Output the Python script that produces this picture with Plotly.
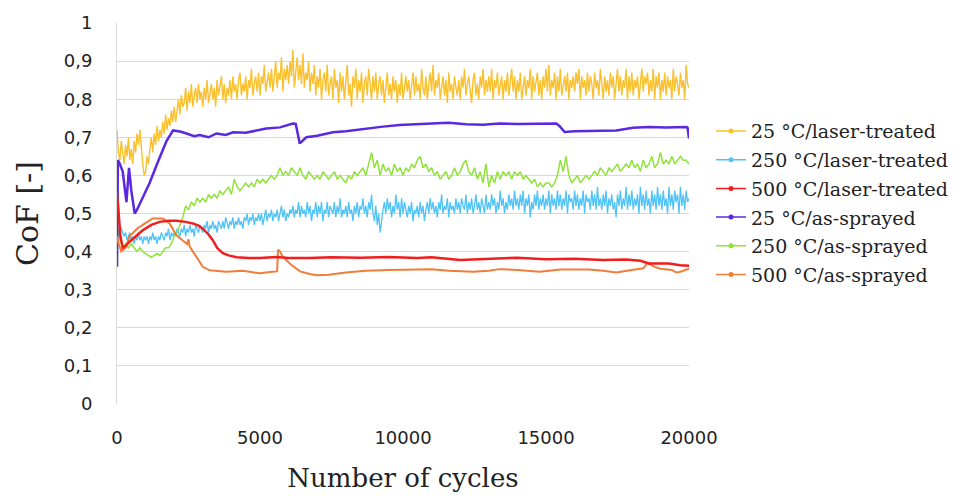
import plotly.graph_objects as go

# ---------------- data ----------------
x_ticks = [0, 5000, 10000, 15000, 20000]
x_tick_labels = ["0", "5000", "10000", "15000", "20000"]
y_ticks = [0, 0.1, 0.2, 0.3, 0.4, 0.5, 0.6, 0.7, 0.8, 0.9, 1.0]
y_tick_labels = ["0", "0,1", "0,2", "0,3", "0,4", "0,5", "0,6", "0,7", "0,8", "0,9", "1"]

series_names = ["25 °C/laser-treated", "250 °C/laser-treated", "500 °C/laser-treated",
                "25 °C/as-sprayed", "250 °C/as-sprayed", "500 °C/as-sprayed"]

# sampling grids of the recorded (noisy) curves
cycles_50 = list(range(0, 20001, 50))
cycles_100 = list(range(0, 20001, 100))

cof_25_laser = [
    0.72, 0.66, 0.64, 0.69, 0.66, 0.63, 0.68, 0.65, 0.70, 0.64, 0.67, 0.63, 0.69, 0.66, 0.71, 0.68, 0.72, 0.66, 0.63, 0.60,
    0.61, 0.65, 0.63, 0.67, 0.70, 0.66, 0.71, 0.68, 0.73, 0.69, 0.72, 0.70, 0.74, 0.71, 0.76, 0.72, 0.75, 0.73, 0.77, 0.74,
    0.78, 0.74, 0.77, 0.80, 0.76, 0.81, 0.78, 0.79, 0.83, 0.77, 0.82, 0.79, 0.84, 0.78, 0.81, 0.83, 0.79, 0.84, 0.80, 0.82,
    0.78, 0.83, 0.80, 0.85, 0.79, 0.82, 0.84, 0.80, 0.83, 0.78, 0.85, 0.81, 0.83, 0.86, 0.80, 0.84, 0.79, 0.83, 0.81, 0.85,
    0.80, 0.86, 0.82, 0.84, 0.80, 0.85, 0.87, 0.81, 0.84, 0.82, 0.86, 0.80, 0.85, 0.83, 0.88, 0.81, 0.84, 0.86, 0.82, 0.87,
    0.81, 0.86, 0.84, 0.89, 0.82, 0.85, 0.87, 0.83, 0.88, 0.82, 0.86, 0.90, 0.83, 0.87, 0.85, 0.91, 0.82, 0.88, 0.85, 0.89,
    0.84, 0.90, 0.86, 0.93, 0.83, 0.88, 0.91, 0.85, 0.89, 0.84, 0.92, 0.83, 0.87, 0.85, 0.90, 0.82, 0.87, 0.84, 0.89, 0.81,
    0.86, 0.83, 0.88, 0.80, 0.85, 0.87, 0.82, 0.89, 0.81, 0.84, 0.86, 0.80, 0.88, 0.83, 0.85, 0.79, 0.87, 0.82, 0.86, 0.80,
    0.85, 0.89, 0.81, 0.84, 0.78, 0.86, 0.83, 0.88, 0.80, 0.85, 0.82, 0.87, 0.79, 0.84, 0.86, 0.81, 0.88, 0.83, 0.80, 0.86,
    0.82, 0.87, 0.80, 0.84, 0.86, 0.81, 0.85, 0.79, 0.83, 0.87, 0.81, 0.84, 0.80, 0.86, 0.82, 0.85, 0.79, 0.84, 0.81, 0.87,
    0.80, 0.84, 0.86, 0.82, 0.85, 0.80, 0.83, 0.87, 0.81, 0.86, 0.82, 0.84, 0.80, 0.88, 0.83, 0.81, 0.86, 0.80, 0.84, 0.87,
    0.82, 0.89, 0.81, 0.85, 0.83, 0.87, 0.80, 0.84, 0.86, 0.81, 0.85, 0.79, 0.87, 0.82, 0.84, 0.80, 0.86, 0.83, 0.81, 0.85,
    0.80, 0.86, 0.83, 0.88, 0.81, 0.84, 0.86, 0.82, 0.79, 0.85, 0.87, 0.81, 0.84, 0.80, 0.86, 0.83, 0.88, 0.81, 0.85, 0.82,
    0.86, 0.82, 0.88, 0.80, 0.85, 0.83, 0.87, 0.81, 0.84, 0.86, 0.80, 0.85, 0.82, 0.87, 0.81, 0.84, 0.88, 0.82, 0.86, 0.80,
    0.85, 0.82, 0.87, 0.80, 0.84, 0.86, 0.81, 0.85, 0.83, 0.88, 0.80, 0.86, 0.82, 0.84, 0.87, 0.81, 0.85, 0.80, 0.86, 0.83,
    0.88, 0.82, 0.89, 0.81, 0.85, 0.83, 0.87, 0.80, 0.86, 0.82, 0.88, 0.81, 0.84, 0.86, 0.82, 0.87, 0.80, 0.85, 0.83, 0.86,
    0.82, 0.87, 0.84, 0.88, 0.80, 0.86, 0.83, 0.85, 0.81, 0.87, 0.82, 0.86, 0.84, 0.80, 0.87, 0.83, 0.85, 0.81, 0.88, 0.84,
    0.80, 0.86, 0.82, 0.85, 0.81, 0.87, 0.83, 0.86, 0.80, 0.84, 0.88, 0.82, 0.86, 0.81, 0.85, 0.83, 0.88, 0.80, 0.86, 0.82,
    0.87, 0.81, 0.85, 0.83, 0.86, 0.80, 0.84, 0.88, 0.82, 0.86, 0.84, 0.87, 0.81, 0.85, 0.82, 0.88, 0.80, 0.86, 0.83, 0.87,
    0.80, 0.85, 0.82, 0.87, 0.81, 0.86, 0.83, 0.85, 0.80, 0.88, 0.82, 0.86, 0.84, 0.81, 0.87, 0.83, 0.85, 0.80, 0.89, 0.84,
    0.83,
]

cof_250_laser = [
    0.60, 0.52, 0.47, 0.46, 0.45, 0.44, 0.45, 0.43, 0.44, 0.45, 0.43, 0.44, 0.42, 0.44, 0.43, 0.45, 0.43, 0.44, 0.42, 0.44,
    0.43, 0.44, 0.42, 0.44, 0.43, 0.45, 0.43, 0.44, 0.42, 0.44, 0.43, 0.45, 0.44, 0.43, 0.45, 0.44, 0.46, 0.43, 0.45, 0.44,
    0.45, 0.44, 0.46, 0.45, 0.44, 0.46, 0.45, 0.47, 0.44, 0.46, 0.45, 0.47, 0.45, 0.46, 0.44, 0.47, 0.46, 0.45, 0.47, 0.46,
    0.45, 0.47, 0.46, 0.48, 0.45, 0.47, 0.46, 0.48, 0.46, 0.47, 0.45, 0.48, 0.47, 0.46, 0.48, 0.46, 0.49, 0.47, 0.46, 0.48,
    0.47, 0.49, 0.46, 0.48, 0.47, 0.49, 0.47, 0.48, 0.46, 0.49, 0.48, 0.50, 0.47, 0.49, 0.48, 0.50, 0.47, 0.49, 0.48, 0.50,
    0.48, 0.50, 0.47, 0.49, 0.51, 0.48, 0.50, 0.49, 0.51, 0.48, 0.50, 0.49, 0.51, 0.48, 0.50, 0.52, 0.49, 0.51, 0.48, 0.50,
    0.49, 0.51, 0.50, 0.52, 0.49, 0.51, 0.50, 0.53, 0.49, 0.52, 0.50, 0.51, 0.49, 0.53, 0.50, 0.52, 0.48, 0.51, 0.50, 0.53,
    0.49, 0.52, 0.50, 0.53, 0.48, 0.51, 0.50, 0.53, 0.49, 0.52, 0.51, 0.50, 0.53, 0.49, 0.52, 0.50, 0.54, 0.49, 0.51, 0.50,
    0.52, 0.49, 0.53, 0.50, 0.51, 0.48, 0.52, 0.50, 0.53, 0.49, 0.52, 0.51, 0.54, 0.50, 0.52, 0.49, 0.53, 0.51, 0.55, 0.50,
    0.48, 0.52, 0.47, 0.50, 0.45, 0.49, 0.51, 0.53, 0.50, 0.54, 0.51, 0.53, 0.49, 0.52, 0.50, 0.55, 0.51, 0.53, 0.49, 0.54,
    0.50, 0.53, 0.51, 0.49, 0.52, 0.50, 0.53, 0.48, 0.51, 0.50, 0.52, 0.49, 0.53, 0.50, 0.52, 0.48, 0.51, 0.53, 0.50, 0.54,
    0.51, 0.53, 0.50, 0.52, 0.49, 0.53, 0.51, 0.55, 0.50, 0.52, 0.51, 0.54, 0.49, 0.53, 0.51, 0.52, 0.50, 0.54, 0.51, 0.53,
    0.50, 0.54, 0.52, 0.51, 0.55, 0.50, 0.53, 0.51, 0.54, 0.50, 0.52, 0.55, 0.51, 0.53, 0.50, 0.54, 0.52, 0.50, 0.55, 0.51,
    0.53, 0.51, 0.55, 0.52, 0.54, 0.50, 0.53, 0.51, 0.56, 0.52, 0.54, 0.50, 0.53, 0.51, 0.55, 0.52, 0.54, 0.51, 0.56, 0.52,
    0.54, 0.51, 0.55, 0.52, 0.56, 0.50, 0.54, 0.52, 0.55, 0.49, 0.53, 0.51, 0.55, 0.52, 0.56, 0.51, 0.54, 0.52, 0.55, 0.51,
    0.54, 0.52, 0.56, 0.50, 0.55, 0.52, 0.54, 0.51, 0.56, 0.52, 0.55, 0.51, 0.54, 0.52, 0.56, 0.50, 0.55, 0.53, 0.54, 0.51,
    0.56, 0.52, 0.55, 0.51, 0.54, 0.52, 0.56, 0.50, 0.55, 0.53, 0.54, 0.51, 0.56, 0.52, 0.55, 0.51, 0.57, 0.52, 0.54, 0.51,
    0.55, 0.52, 0.56, 0.50, 0.54, 0.52, 0.55, 0.51, 0.53, 0.49, 0.55, 0.52, 0.56, 0.51, 0.54, 0.52, 0.57, 0.51, 0.55, 0.52,
    0.56, 0.51, 0.54, 0.52, 0.55, 0.50, 0.57, 0.52, 0.55, 0.51, 0.56, 0.52, 0.54, 0.50, 0.56, 0.52, 0.55, 0.51, 0.57, 0.52,
    0.55, 0.51, 0.56, 0.52, 0.54, 0.50, 0.57, 0.52, 0.55, 0.51, 0.56, 0.53, 0.55, 0.50, 0.57, 0.52, 0.55, 0.51, 0.56, 0.53,
    0.54,
]

cof_250_sprayed = [
    0.47, 0.43, 0.41, 0.42, 0.41, 0.42, 0.41, 0.40, 0.41, 0.40,
    0.395, 0.39, 0.385, 0.39, 0.395, 0.39, 0.40, 0.41, 0.41, 0.42,
    0.44, 0.45, 0.47, 0.49, 0.52, 0.51, 0.53, 0.52, 0.54, 0.53,
    0.54, 0.53, 0.55, 0.54, 0.55, 0.54, 0.56, 0.55, 0.56, 0.57,
    0.55, 0.59, 0.57, 0.56, 0.57, 0.58, 0.57, 0.58, 0.57, 0.59,
    0.58, 0.59, 0.58, 0.59, 0.60, 0.59, 0.60, 0.62, 0.60, 0.61,
    0.60, 0.62, 0.61, 0.60, 0.62, 0.60, 0.59, 0.61, 0.60, 0.59,
    0.60, 0.59, 0.61, 0.60, 0.59, 0.60, 0.61, 0.59, 0.60, 0.59,
    0.58, 0.60, 0.59, 0.61, 0.60, 0.61, 0.62, 0.60, 0.63, 0.66,
    0.62, 0.64, 0.60, 0.63, 0.61, 0.62, 0.60, 0.63, 0.61, 0.62,
    0.60, 0.62, 0.61, 0.63, 0.62, 0.64, 0.65, 0.62, 0.63, 0.61,
    0.62, 0.60, 0.61, 0.59, 0.60, 0.61, 0.59, 0.60, 0.62, 0.60,
    0.61, 0.63, 0.64, 0.61, 0.60, 0.62, 0.59, 0.61, 0.58, 0.63,
    0.57, 0.60, 0.58, 0.61, 0.59, 0.61, 0.60, 0.61, 0.59, 0.61,
    0.60, 0.61, 0.59, 0.60, 0.59, 0.58, 0.59, 0.57, 0.58, 0.57,
    0.58, 0.58, 0.57, 0.58, 0.60, 0.64, 0.61, 0.65, 0.60, 0.58,
    0.59, 0.60, 0.58, 0.59, 0.60, 0.59, 0.60, 0.61, 0.60, 0.62,
    0.61, 0.60, 0.62, 0.61, 0.62, 0.63, 0.61, 0.62, 0.63, 0.62,
    0.64, 0.62, 0.63, 0.61, 0.64, 0.62, 0.63, 0.65, 0.62, 0.63,
    0.66, 0.63, 0.64, 0.63, 0.65, 0.63, 0.64, 0.65, 0.64, 0.64,
    0.63,
]

cycles_25_sprayed = [0, 30, 100, 200, 330, 420, 500, 620, 700, 900, 1140, 1400, 1730, 1960, 2200,
                     2430, 2700, 2890, 3200, 3480, 3800, 4060, 4500, 5220, 5700, 6150, 6250, 6390,
                     6620, 7000, 7550, 8000, 8720, 9300, 9880, 10500, 11000, 11600, 12200, 12800,
                     13380, 14000, 14800, 15360, 15470, 15650, 16000, 16500, 17460, 18040, 18600,
                     19200, 19920, 19950, 20000]
cof_25_sprayed = [0.36, 0.64, 0.63, 0.61, 0.53, 0.62, 0.56, 0.50, 0.51, 0.54, 0.58, 0.63, 0.69, 0.718, 0.715,
                  0.71, 0.703, 0.706, 0.70, 0.71, 0.706, 0.713, 0.712, 0.723, 0.726, 0.736, 0.735, 0.684,
                  0.70, 0.704, 0.713, 0.716, 0.723, 0.728, 0.732, 0.735, 0.736, 0.738, 0.734, 0.733,
                  0.736, 0.735, 0.736, 0.736, 0.73, 0.714, 0.716, 0.717, 0.718, 0.725, 0.727,
                  0.726, 0.727, 0.725, 0.697]

cycles_500_laser = [0, 60, 120, 200, 300, 440, 650, 900, 1200, 1490, 1800, 2080, 2400, 2650, 2850, 3000,
                    3200, 3350, 3500, 3700, 3900, 4180, 4600, 4990, 5580, 6000, 6740, 7500, 8500, 9500,
                    10500, 11000, 12000, 12800, 13400, 14000, 15000, 16000, 17000, 17800, 18300, 18600,
                    19300, 19700, 20000]
cof_500_laser = [0.553, 0.50, 0.44, 0.41, 0.415, 0.426, 0.44, 0.456, 0.47, 0.478, 0.481, 0.481, 0.478, 0.474,
                 0.468, 0.46, 0.445, 0.43, 0.41, 0.396, 0.39, 0.385, 0.383, 0.383, 0.386, 0.383, 0.383,
                 0.385, 0.384, 0.386, 0.383, 0.385, 0.378, 0.381, 0.382, 0.384, 0.38, 0.381, 0.378,
                 0.379, 0.376, 0.369, 0.369, 0.364, 0.363]

cycles_500_sprayed = [0, 60, 150, 300, 440, 700, 900, 1250, 1600, 1840, 2080, 2300, 2450, 2500, 2540, 2780,
                      3000, 3240, 3820, 4400, 4990, 5410, 5600, 5630, 5700, 5800, 6100, 6400, 6740, 7000,
                      7400, 8000, 8700, 9500, 10450, 11000, 11600, 12200, 12450, 13000, 13380, 14000,
                      14780, 15500, 16500, 17000, 17460, 18000, 18400, 18550, 18800, 19000, 19400,
                      19560, 19700, 20000]
cof_500_sprayed = [0.44, 0.42, 0.40, 0.41, 0.44, 0.46, 0.47, 0.487, 0.487, 0.474, 0.443, 0.43, 0.42, 0.432,
                   0.413, 0.386, 0.36, 0.351, 0.347, 0.35, 0.343, 0.347, 0.348, 0.405, 0.40, 0.386, 0.365,
                   0.348, 0.341, 0.338, 0.339, 0.345, 0.35, 0.352, 0.354, 0.354, 0.35, 0.347, 0.347,
                   0.35, 0.354, 0.352, 0.347, 0.353, 0.353, 0.35, 0.345, 0.352, 0.356, 0.37, 0.36,
                   0.355, 0.352, 0.345, 0.347, 0.355]

colors = ["#FBC02D", "#4FC3F7", "#F01E1E", "#5A28E0", "#8FE33A", "#F07D3A"]
widths = [1.4, 1.3, 2.5, 2.5, 1.5, 2]

xs = [cycles_50, cycles_50, cycles_500_laser, cycles_25_sprayed, cycles_100, cycles_500_sprayed]
ys = [cof_25_laser, cof_250_laser, cof_500_laser, cof_25_sprayed, cof_250_sprayed, cof_500_sprayed]

# drawing order (bottom to top) roughly as in the reference
draw_order = [1, 4, 0, 3, 5, 2]

fig = go.Figure()
for i in draw_order:
    fig.add_trace(go.Scatter(x=xs[i], y=ys[i], mode="lines",
                             line=dict(color=colors[i], width=widths[i]),
                             showlegend=False, hoverinfo="skip"))

# legend entries (line with dot marker, like the original)
for i, name in enumerate(series_names):
    fig.add_trace(go.Scatter(x=[None], y=[None], mode="lines+markers", name=name,
                             legendgroup=f"g{i}",
                             line=dict(color=colors[i], width=1.5),
                             marker=dict(color=colors[i], size=5)))

fig.update_layout(
    width=965, height=499,
    margin=dict(l=117, r=276, t=23, b=95),
    plot_bgcolor="white", paper_bgcolor="white",
    font=dict(family="DejaVu Sans", size=18, color="#222222"),
    legend=dict(x=1.0385, xanchor="left", y=0.766, yanchor="top",
                font=dict(family="DejaVu Serif", size=19, color="#222222"),
                traceorder="grouped", tracegroupgap=1, itemwidth=30,
                bgcolor="rgba(0,0,0,0)"),
    xaxis=dict(range=[0, 20000], tickvals=x_ticks, ticktext=x_tick_labels,
               showgrid=False, zeroline=False, showline=False,
               ticks="outside", ticklen=0, tickcolor="white", ticklabelstandoff=17,
               tickfont=dict(family="DejaVu Sans", size=18, color="#222222"),
               title=dict(text="Number of cycles",
                          font=dict(family="DejaVu Serif", size=26, color="#222222"),
                          standoff=22)),
    yaxis=dict(range=[0, 1], tickvals=y_ticks, ticktext=y_tick_labels,
               showgrid=True, gridcolor="#D9D9D9", gridwidth=1,
               zeroline=False, showline=True, linecolor="#D9D9D9", linewidth=1,
               ticks="outside", ticklen=0, tickcolor="white", ticklabelstandoff=20,
               tickfont=dict(family="DejaVu Sans", size=18, color="#222222"),
               title=dict(text="CoF [-]",
                          font=dict(family="DejaVu Serif", size=30, color="#222222"),
                          standoff=16)),
)

fig.write_html("out.html")
